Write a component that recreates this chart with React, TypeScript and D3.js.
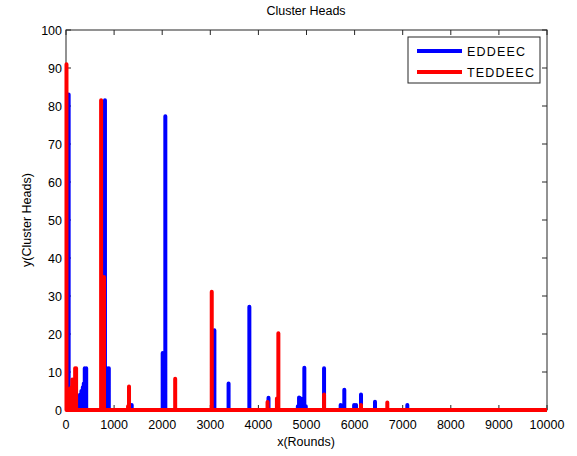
import React from "react";
import * as d3 from "d3";

const W = 577;
const H = 456;

// EDDEEC spikes: rounds and cluster-head counts
const eddeecRounds = [55, 290, 320, 350, 370, 390, 420, 810, 850, 890, 1366, 2010, 2065, 3085, 3380, 3812, 4210, 4820, 4845, 4880, 4955, 4985, 5365, 5710, 5786, 5990, 6030, 6133, 6424, 7096];
const eddeecValues = [83, 4, 5, 6, 7, 11, 11, 81.5, 11, 11, 1.3, 15, 77.3, 21, 7, 27.2, 3.2, 1, 3.3, 3, 11.1, 1, 11, 1.3, 5.3, 1.3, 1.3, 4.1, 2.2, 1.3];

// TEDDEEC spikes
const teddeecRounds = [10, 40, 80, 110, 130, 160, 190, 210, 730, 790, 1290, 1310, 2270, 3030, 4190, 4385, 4415, 5365, 6133, 6680];
const teddeecValues = [91, 5.5, 5.5, 6, 8, 8, 11, 11, 81.5, 35, 1, 6.2, 8.2, 31.1, 2.1, 3, 20.2, 4.1, 1.3, 2];

const xTicks = [0, 1000, 2000, 3000, 4000, 5000, 6000, 7000, 8000, 9000, 10000];
const yTicks = [0, 10, 20, 30, 40, 50, 60, 70, 80, 90, 100];

const seriesNames = ["EDDEEC", "TEDDEEC"];
const seriesColors = ["#0000ff", "#ff0000"];

const margin = { left: 66, right: 547, top: 30, bottom: 410 };

function buildPoints(rounds: number[], values: number[]): [number, number][] {
  const pts: [number, number][] = [[0, 0]];
  rounds.forEach((r, i) => {
    pts.push([r, 0]);
    pts.push([r, values[i]]);
    pts.push([r, 0]);
  });
  pts.push([10000, 0]);
  return pts;
}

export default function App() {
  const x = d3.scaleLinear().domain([0, 10000]).range([margin.left, margin.right]);
  const y = d3.scaleLinear().domain([0, 100]).range([margin.bottom, margin.top]);
  const line = d3
    .line<[number, number]>()
    .x((d) => x(d[0]))
    .y((d) => y(d[1]));

  const blue = line(buildPoints(eddeecRounds, eddeecValues)) || "";
  const red = line(buildPoints(teddeecRounds, teddeecValues)) || "";
  const font = "'Liberation Sans', Arial, Helvetica, sans-serif";
  const axisColor = "#262626";
  const tickLen = 5;

  return (
    <svg
      width={W}
      height={H}
      style={{ position: "absolute", left: 0, top: 0, background: "#fff" }}
      fontFamily={font}
    >
      <rect x={0} y={0} width={W} height={H} fill="#fff" />
      {/* title */}
      <text x={306} y={15} textAnchor="middle" fontSize={12.5} fill="#000">
        Cluster Heads
      </text>
      {/* axes box */}
      <rect
        x={margin.left}
        y={margin.top}
        width={margin.right - margin.left}
        height={margin.bottom - margin.top}
        fill="none"
        stroke={axisColor}
        strokeWidth={1}
      />
      {/* x ticks */}
      {xTicks.map((t) => (
        <g key={"x" + t}>
          <line x1={x(t)} x2={x(t)} y1={margin.bottom} y2={margin.bottom - tickLen} stroke={axisColor} />
          <line x1={x(t)} x2={x(t)} y1={margin.top} y2={margin.top + tickLen} stroke={axisColor} />
          <text x={x(t)} y={429} textAnchor="middle" fontSize={12.5} fill="#000">
            {t}
          </text>
        </g>
      ))}
      {/* y ticks */}
      {yTicks.map((t) => (
        <g key={"y" + t}>
          <line x1={margin.left} x2={margin.left + tickLen} y1={y(t)} y2={y(t)} stroke={axisColor} />
          <line x1={margin.right} x2={margin.right - tickLen} y1={y(t)} y2={y(t)} stroke={axisColor} />
          <text x={62} y={y(t) + 4.5} textAnchor="end" fontSize={12.5} fill="#000">
            {t}
          </text>
        </g>
      ))}
      {/* series */}
      <path d={blue} fill="none" stroke={seriesColors[0]} strokeWidth={4} strokeLinejoin="round" strokeLinecap="butt" />
      <path d={red} fill="none" stroke={seriesColors[1]} strokeWidth={4} strokeLinejoin="round" strokeLinecap="butt" />
      {/* axis labels */}
      <text x={306} y={446} textAnchor="middle" fontSize={12.5} fill="#000">
        x(Rounds)
      </text>
      <text
        transform={`translate(31, 220) rotate(-90)`}
        textAnchor="middle"
        fontSize={12.5}
        fill="#000"
      >
        y(Cluster Heads)
      </text>
      {/* legend */}
      <g>
        <rect x={408} y={37} width={132} height={46} fill="#fff" stroke={axisColor} strokeWidth={1} />
        {seriesNames.map((n, i) => (
          <g key={n}>
            <line
              x1={417}
              x2={462}
              y1={51 + i * 21}
              y2={51 + i * 21}
              stroke={seriesColors[i]}
              strokeWidth={4}
            />
            <text x={467} y={55.5 + i * 21} fontSize={12.5} letterSpacing={1.2} fill="#000">
              {n}
            </text>
          </g>
        ))}
      </g>
    </svg>
  );
}
